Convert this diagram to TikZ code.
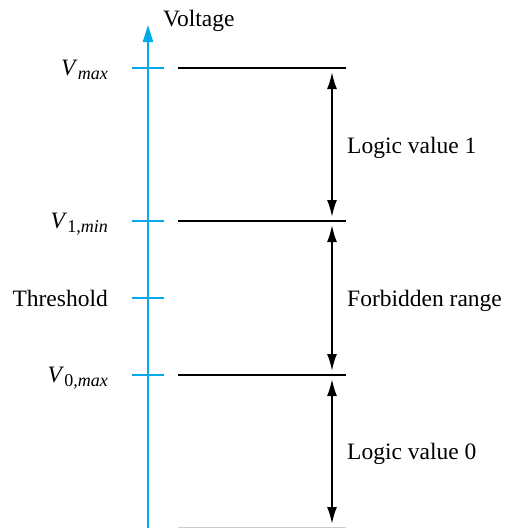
\documentclass[tikz,border=0pt]{standalone}
\usepackage{fontspec}
\setmainfont{Liberation Serif}
\usetikzlibrary{arrows.meta, positioning, calc}

\definecolor{axisblue}{RGB}{0,170,236}
\newcommand{\lvl}[2]{\textit{V}\raisebox{-0.45ex}{\fontsize{18}{18}\selectfont #1\textit{#2}}}

\tikzset{
  levtick/.style={axisblue, line width=2pt},
  levline/.style={black, line width=2pt},
  rangearrow/.style={{Latex[length=17pt,width=10pt]}-{Latex[length=17pt,width=10pt]}, line width=2pt, shorten <=4pt, shorten >=4pt}
}

\begin{document}
\begin{tikzpicture}[x=1pt, y=-1pt, font=\fontsize{23.5}{27}\selectfont, inner sep=0pt]
  \useasboundingbox (0,0) rectangle (506,528);

  % voltage axis
  \coordinate (bot) at (148,532);
  \coordinate (top) at (148,25);
  \draw[axisblue, line width=2.2pt, -{Triangle[length=17pt,width=10pt]}] (bot) -- (top);
  \node[anchor=base west] (volt) at (163,26) {Voltage};

  % levels: ticks on the axis, lines to the right
  \foreach \n/\y in {vmax/68, vone/221, thr/298, vzero/375} {
    \coordinate (\n-a) at (132,\y);
    \coordinate (\n-b) at (164,\y);
    \coordinate (\n-l) at (178,\y);
    \coordinate (\n-r) at (346,\y);
    \coordinate (\n-m) at (332,\y);
    \draw[levtick] (\n-a) -- (\n-b);
  }
  \coordinate (gnd-l) at (178,528);
  \coordinate (gnd-r) at (346,528);
  \coordinate (gnd-m) at (332,528);
  \draw[black!20, line width=1.6pt] (gnd-l) -- (gnd-r);
  \foreach \n in {vmax, vone, vzero}
    \draw[levline] (\n-l) -- (\n-r);

  % left labels
  \node[anchor=base east] (lmax) at (108,75) {\lvl{}{max}};
  \node[anchor=base east] (lone) at (108,228) {\lvl{1}{,min}};
  \node[anchor=base east] (lthr) at (108,306) {Threshold};
  \node[anchor=base east] (lzero) at (108,382) {\lvl{0}{,max}};

  % ranges
  \draw[rangearrow] (vmax-m) -- (vone-m);
  \draw[rangearrow] (vone-m) -- (vzero-m);
  \draw[rangearrow] (vzero-m) -- (gnd-m);

  \node[anchor=base west] (r1) at (347,153) {Logic value 1};
  \node[anchor=base west] (rf) at (347,306) {Forbidden range};
  \node[anchor=base west] (r0) at (347,459) {Logic value 0};
\end{tikzpicture}
\end{document}
